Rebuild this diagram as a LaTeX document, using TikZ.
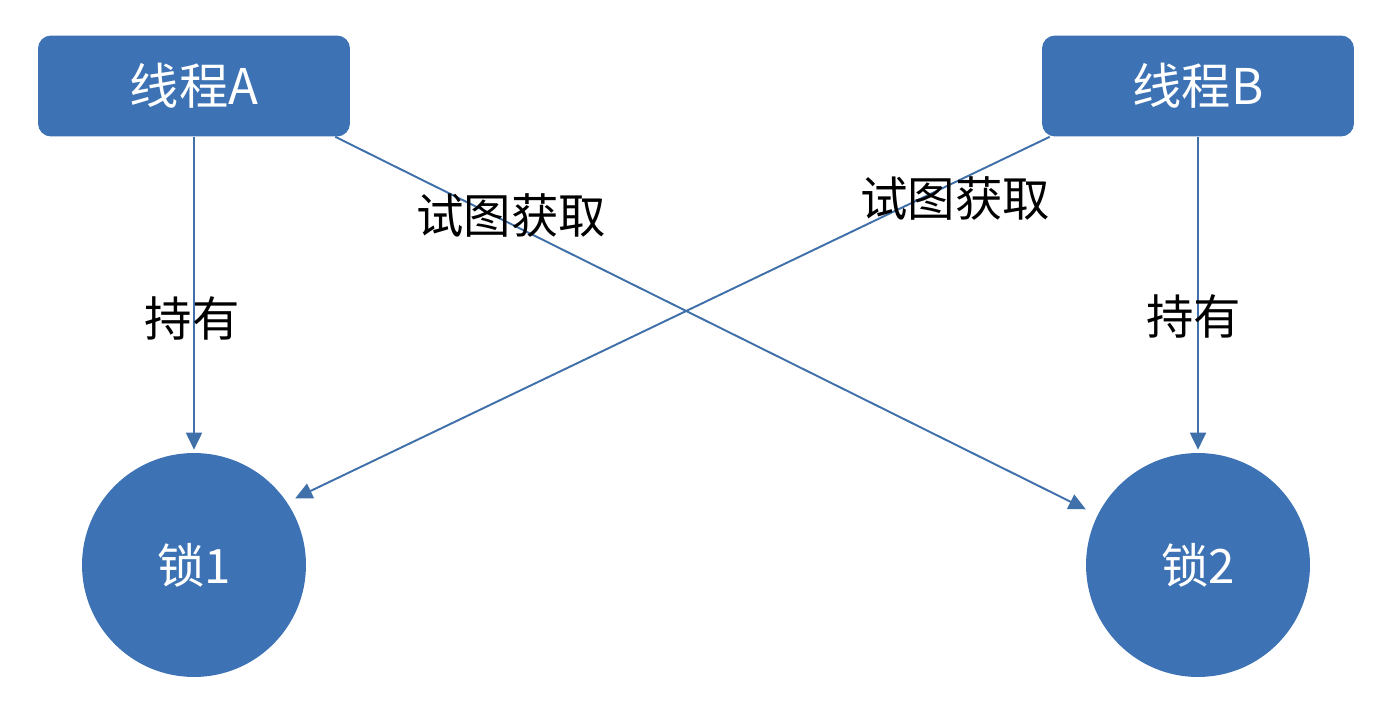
\documentclass[tikz,border=0pt]{standalone}
\usepackage{fontspec}
\newfontfamily\cjk{Noto Sans CJK SC}
\usetikzlibrary{arrows.meta}
\definecolor{boxblue}{HTML}{3D72B4}
\definecolor{lineblue}{HTML}{4070AA}
\tikzset{
  thread/.style={rectangle, rounded corners=0.26cm, fill=boxblue, text=white,
    minimum width=6.24cm, minimum height=2.02cm, font=\cjk\fontsize{28}{32}\selectfont},
  lock/.style={circle, fill=boxblue, text=white, minimum size=4.48cm,
    inner sep=0pt, font=\cjk\fontsize{27}{30}\selectfont},
  link/.style={draw=lineblue, line width=1.1pt,
    -{Triangle[length=0.34cm, width=0.32cm]}},
  tag/.style={font=\cjk\fontsize{27}{32}\selectfont, text=black}
}
\begin{document}
\begin{tikzpicture}[x=0.02cm, y=-0.02cm]
  \useasboundingbox (0,0) rectangle (1396,702);

  % thread boxes
  \node[thread] (thA) at (194,86) {线程A};
  \node[thread] (thB) at (1198,86) {线程B};

  % locks
  \node[lock] (lk1) at (194,565) {锁1};
  \node[lock] (lk2) at (1198,565) {锁2};

  % start points of the crossing lines
  \coordinate (a1) at ([xshift=-0.3cm]thA.south east);
  \coordinate (b1) at ([xshift=0.16cm]thB.south west);

  % hold
  \draw[link, shorten >=0.06cm] (thA) -- (lk1) node[tag, pos=0.575, left=-1.05cm] {持有};
  \draw[link, shorten >=0.06cm] (thB) -- (lk2) node[tag, pos=0.57, left=-1.0cm] {持有};

  % try to acquire
  \draw[link, shorten >=0.26cm] (a1) -- (lk2);
  \draw[link, shorten >=0.18cm] (b1) -- (lk1.34);
  \node[tag] at (511,216) {试图获取};
  \node[tag] at (955,199) {试图获取};
\end{tikzpicture}
\end{document}
